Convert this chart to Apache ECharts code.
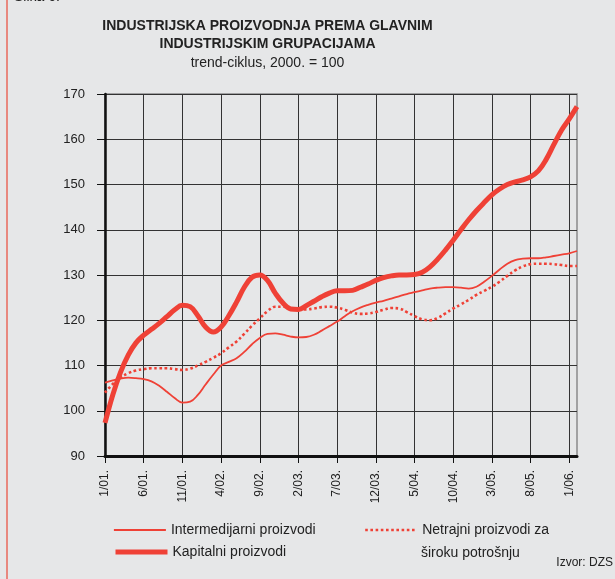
<!DOCTYPE html>
<html>
<head>
<meta charset="utf-8">
<script src="https://cdn.jsdelivr.net/npm/echarts@6/dist/echarts.min.js"></script>
<style>
  html, body { margin: 0; padding: 0; background: #e6e7e8; }
  #chart { width: 615px; height: 579px; }
</style>
</head>
<body>
<div id="chart"></div>
<script>
// mjeseci 1/01 - 2/06
var months = [
  '1/01.', '2/01.', '3/01.', '4/01.', '5/01.', '6/01.', '7/01.', '8/01.', '9/01.', '10/01.', '11/01.', '12/01.',
  '1/02.', '2/02.', '3/02.', '4/02.', '5/02.', '6/02.', '7/02.', '8/02.', '9/02.', '10/02.', '11/02.', '12/02.',
  '1/03.', '2/03.', '3/03.', '4/03.', '5/03.', '6/03.', '7/03.', '8/03.', '9/03.', '10/03.', '11/03.', '12/03.',
  '1/04.', '2/04.', '3/04.', '4/04.', '5/04.', '6/04.', '7/04.', '8/04.', '9/04.', '10/04.', '11/04.', '12/04.',
  '1/05.', '2/05.', '3/05.', '4/05.', '5/05.', '6/05.', '7/05.', '8/05.', '9/05.', '10/05.', '11/05.', '12/05.',
  '1/06.', '2/06.'
];

var intermedijarni = [
  106.2, 106.7, 107.1, 107.3, 107.2, 107.0, 106.5, 105.5, 104.2, 102.8, 101.8, 102.0,
  103.5, 105.8, 108.0, 110.0, 110.8, 111.6, 113.0, 114.7, 116.1, 117.0, 117.1, 116.8,
  116.4, 116.2, 116.3, 116.8, 117.7, 118.7, 119.7, 120.9, 122.0, 122.8, 123.4, 123.9,
  124.3, 124.8, 125.3, 125.8, 126.2, 126.6, 127.0, 127.2, 127.3, 127.3, 127.2, 127.0,
  127.4, 128.5, 129.8, 131.2, 132.5, 133.3, 133.6, 133.7, 133.7, 133.9, 134.2, 134.5,
  134.8, 135.3
];

var kapitalni = [
  97.3, 103.5, 108.5, 112.3, 115.0, 116.7, 118.0, 119.3, 120.8, 122.3, 123.3, 123.0,
  121.0, 118.5, 117.4, 118.5, 121.0, 124.0, 127.3, 129.5, 130.0, 128.8, 126.0, 123.8,
  122.5, 122.4, 123.2, 124.2, 125.2, 126.0, 126.5, 126.5, 126.6, 127.3, 128.0, 128.8,
  129.4, 129.8, 130.0, 130.0, 130.1, 130.6, 131.8, 133.5, 135.5, 137.7, 140.0, 142.2,
  144.2, 146.0, 147.7, 149.0, 150.0, 150.6, 151.0, 151.7, 153.0, 155.5, 158.8, 162.0,
  164.5, 167.2
];

var netrajni = [
  104.0, 105.9, 107.3, 108.3, 108.9, 109.2, 109.4, 109.4, 109.4, 109.2, 109.0, 109.3,
  110.0, 110.8, 111.7, 112.7, 114.0, 115.3, 117.0, 118.8, 120.4, 122.0, 123.0, 123.0,
  122.6, 122.4, 122.4, 122.6, 122.9, 123.0, 122.8, 122.3, 121.7, 121.4, 121.5, 121.8,
  122.3, 122.7, 122.6, 121.8, 120.9, 120.2, 120.0, 120.5, 121.5, 122.6, 123.5, 124.5,
  125.6, 126.5, 127.4, 128.5, 129.8, 131.0, 131.9, 132.4, 132.5, 132.5, 132.4, 132.2,
  132.0, 132.0
];

var names = ['Intermedijarni proizvodi', 'Kapitalni proizvodi', 'Netrajni proizvodi za široku potrošnju'];

var red = '#ef4136';
var font = "'Liberation Sans', Arial, sans-serif";

var myChart = echarts.init(document.getElementById('chart'));

var legendBase = {
  padding: 0,
  itemWidth: 52,
  itemHeight: 16,
  selectedMode: false,
  itemStyle: { opacity: 0 },
  textStyle: { fontSize: 14, color: '#222', fontFamily: font }
};

var option = {
  backgroundColor: '#e6e7e8',
  animation: false,
  textStyle: { fontFamily: font },
  graphic: [
    { type: 'line', shape: { x1: 7, y1: 0, x2: 7, y2: 579 }, style: { stroke: '#e8685c', lineWidth: 1.5 } },
    { type: 'text', x: 14, y: -10, style: { text: 'Slika 6.', fontSize: 14, fontFamily: font, fill: '#222', textVerticalAlign: 'top' } },
    { type: 'text', x: 267.5, y: 26, style: { text: 'INDUSTRIJSKA PROIZVODNJA PREMA GLAVNIM', fontSize: 14, fontWeight: 'bold', fontFamily: font, fill: '#222', textAlign: 'center', textVerticalAlign: 'middle' } },
    { type: 'text', x: 267.5, y: 44.5, style: { text: 'INDUSTRIJSKIM GRUPACIJAMA', fontSize: 14, fontWeight: 'bold', fontFamily: font, fill: '#222', textAlign: 'center', textVerticalAlign: 'middle' } },
    { type: 'text', x: 267.5, y: 63, style: { text: 'trend-ciklus, 2000. = 100', fontSize: 14, fontFamily: font, fill: '#222', textAlign: 'center', textVerticalAlign: 'middle' } },
    { type: 'text', x: 421, y: 553, style: { text: 'široku potrošnju', fontSize: 14, fontFamily: font, fill: '#222', textVerticalAlign: 'middle' } },
    { type: 'text', x: 613, y: 563, style: { text: 'Izvor: DZS', fontSize: 12, fontFamily: font, fill: '#222', textAlign: 'right', textVerticalAlign: 'middle' } }
  ],
  legend: [
    Object.assign({}, legendBase, { data: [names[0]], left: 113, top: 523, lineStyle: { width: 1.8 } }),
    Object.assign({}, legendBase, { data: [names[1]], left: 113, top: 545, lineStyle: { width: 5 } }),
    Object.assign({}, legendBase, {
      data: [names[2]], left: 364, top: 523, lineStyle: { width: 2.4 },
      formatter: function () { return 'Netrajni proizvodi za'; }
    })
  ],
  grid: {
    left: 105, top: 94, right: 38, bottom: 123,
    show: true, borderColor: '#8a8a8a', borderWidth: 1.5
  },
  xAxis: {
    type: 'category',
    data: months,
    boundaryGap: false,
    axisLine: { lineStyle: { color: '#111', width: 3 } },
    axisTick: { show: true, interval: 4, length: 7, lineStyle: { color: '#111', width: 1 } },
    axisLabel: { interval: 4, rotate: 90, margin: 14, fontSize: 12, color: '#222', fontFamily: font },
    splitLine: { show: true, interval: 4, lineStyle: { color: '#333', width: 1 } }
  },
  yAxis: {
    type: 'value',
    min: 90,
    max: 170,
    interval: 10,
    axisLine: { show: true, lineStyle: { color: '#111', width: 2.5 } },
    axisTick: { show: true, length: 8, lineStyle: { color: '#111', width: 1 } },
    axisLabel: { margin: 20, fontSize: 13, color: '#222', fontFamily: font },
    splitLine: { show: true, lineStyle: { color: '#333', width: 1 } }
  },
  series: [
    {
      name: names[0], type: 'line', data: intermedijarni, smooth: 0.4,
      symbol: 'none', color: red,
      lineStyle: { color: red, width: 1.8 }
    },
    {
      name: names[1], type: 'line', data: kapitalni, smooth: 0.4,
      symbol: 'none', color: red,
      lineStyle: { color: red, width: 5 }
    },
    {
      name: names[2], type: 'line', data: netrajni, smooth: 0.4,
      symbol: 'none', color: red,
      lineStyle: { color: red, width: 2.6, type: [2.6, 2.6] }
    }
  ]
};

myChart.setOption(option);
window.onresize = myChart.resize;
</script>
</body>
</html>
